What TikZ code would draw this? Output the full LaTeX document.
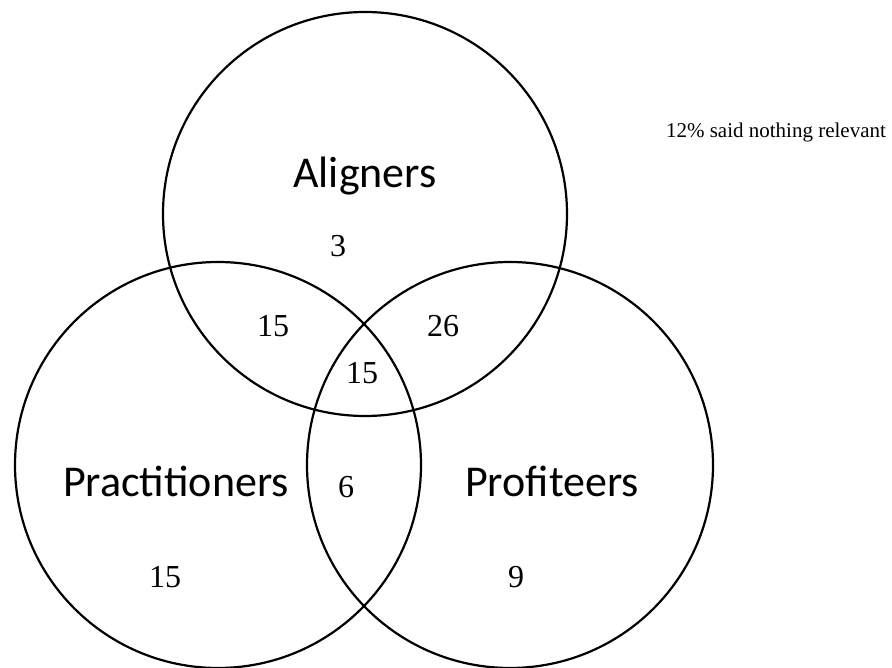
\documentclass[tikz,border=0pt]{standalone}
\usepackage{fontspec}
\setmainfont{Liberation Serif}
\newfontfamily\labelfont{Carlito}
\usepackage{tikz}
\usetikzlibrary{positioning}

\begin{document}
\begin{tikzpicture}[
  x=1pt, y=-1pt,
  set/.style={draw, circle, line width=2.2pt, inner sep=0pt, minimum size=406pt},
  setname/.style={font=\labelfont\fontsize{44}{48}\selectfont},
  count/.style={font=\fontsize{32}{36}\selectfont, inner sep=0pt},
  note/.style={font=\fontsize{21}{24}\selectfont, inner sep=0pt}
]
  \useasboundingbox (0,0) rectangle (892,668);
  % the three sets
  \node[set, minimum size=404pt] (ali) at (365,214) {};
  \node[set] (pra) at (218,465) {};
  \node[set] (pro) at (510,465) {};
  % set names
  \node[setname] (aliname) at (365,176) {Aligners};
  \node[setname] (praname) at (176,481) {Practitioners};
  \node[setname] (proname) at (552,481) {Profiteers};
  % counts per region
  \node[count] (nali) at (338,246) {3};
  \node[count] (nalipra) at (273,326) {15};
  \node[count] (nalipro) at (443,326) {26};
  \node[count] (nall) at (362,373) {15};
  \node[count] (npraproo) at (346,487) {6};
  \node[count] (npra) at (165,577) {15};
  \node[count] (npro) at (516,577) {9};
  \node[note, anchor=base] (none) at (776,138) {12\% said nothing relevant};
\end{tikzpicture}
\end{document}
